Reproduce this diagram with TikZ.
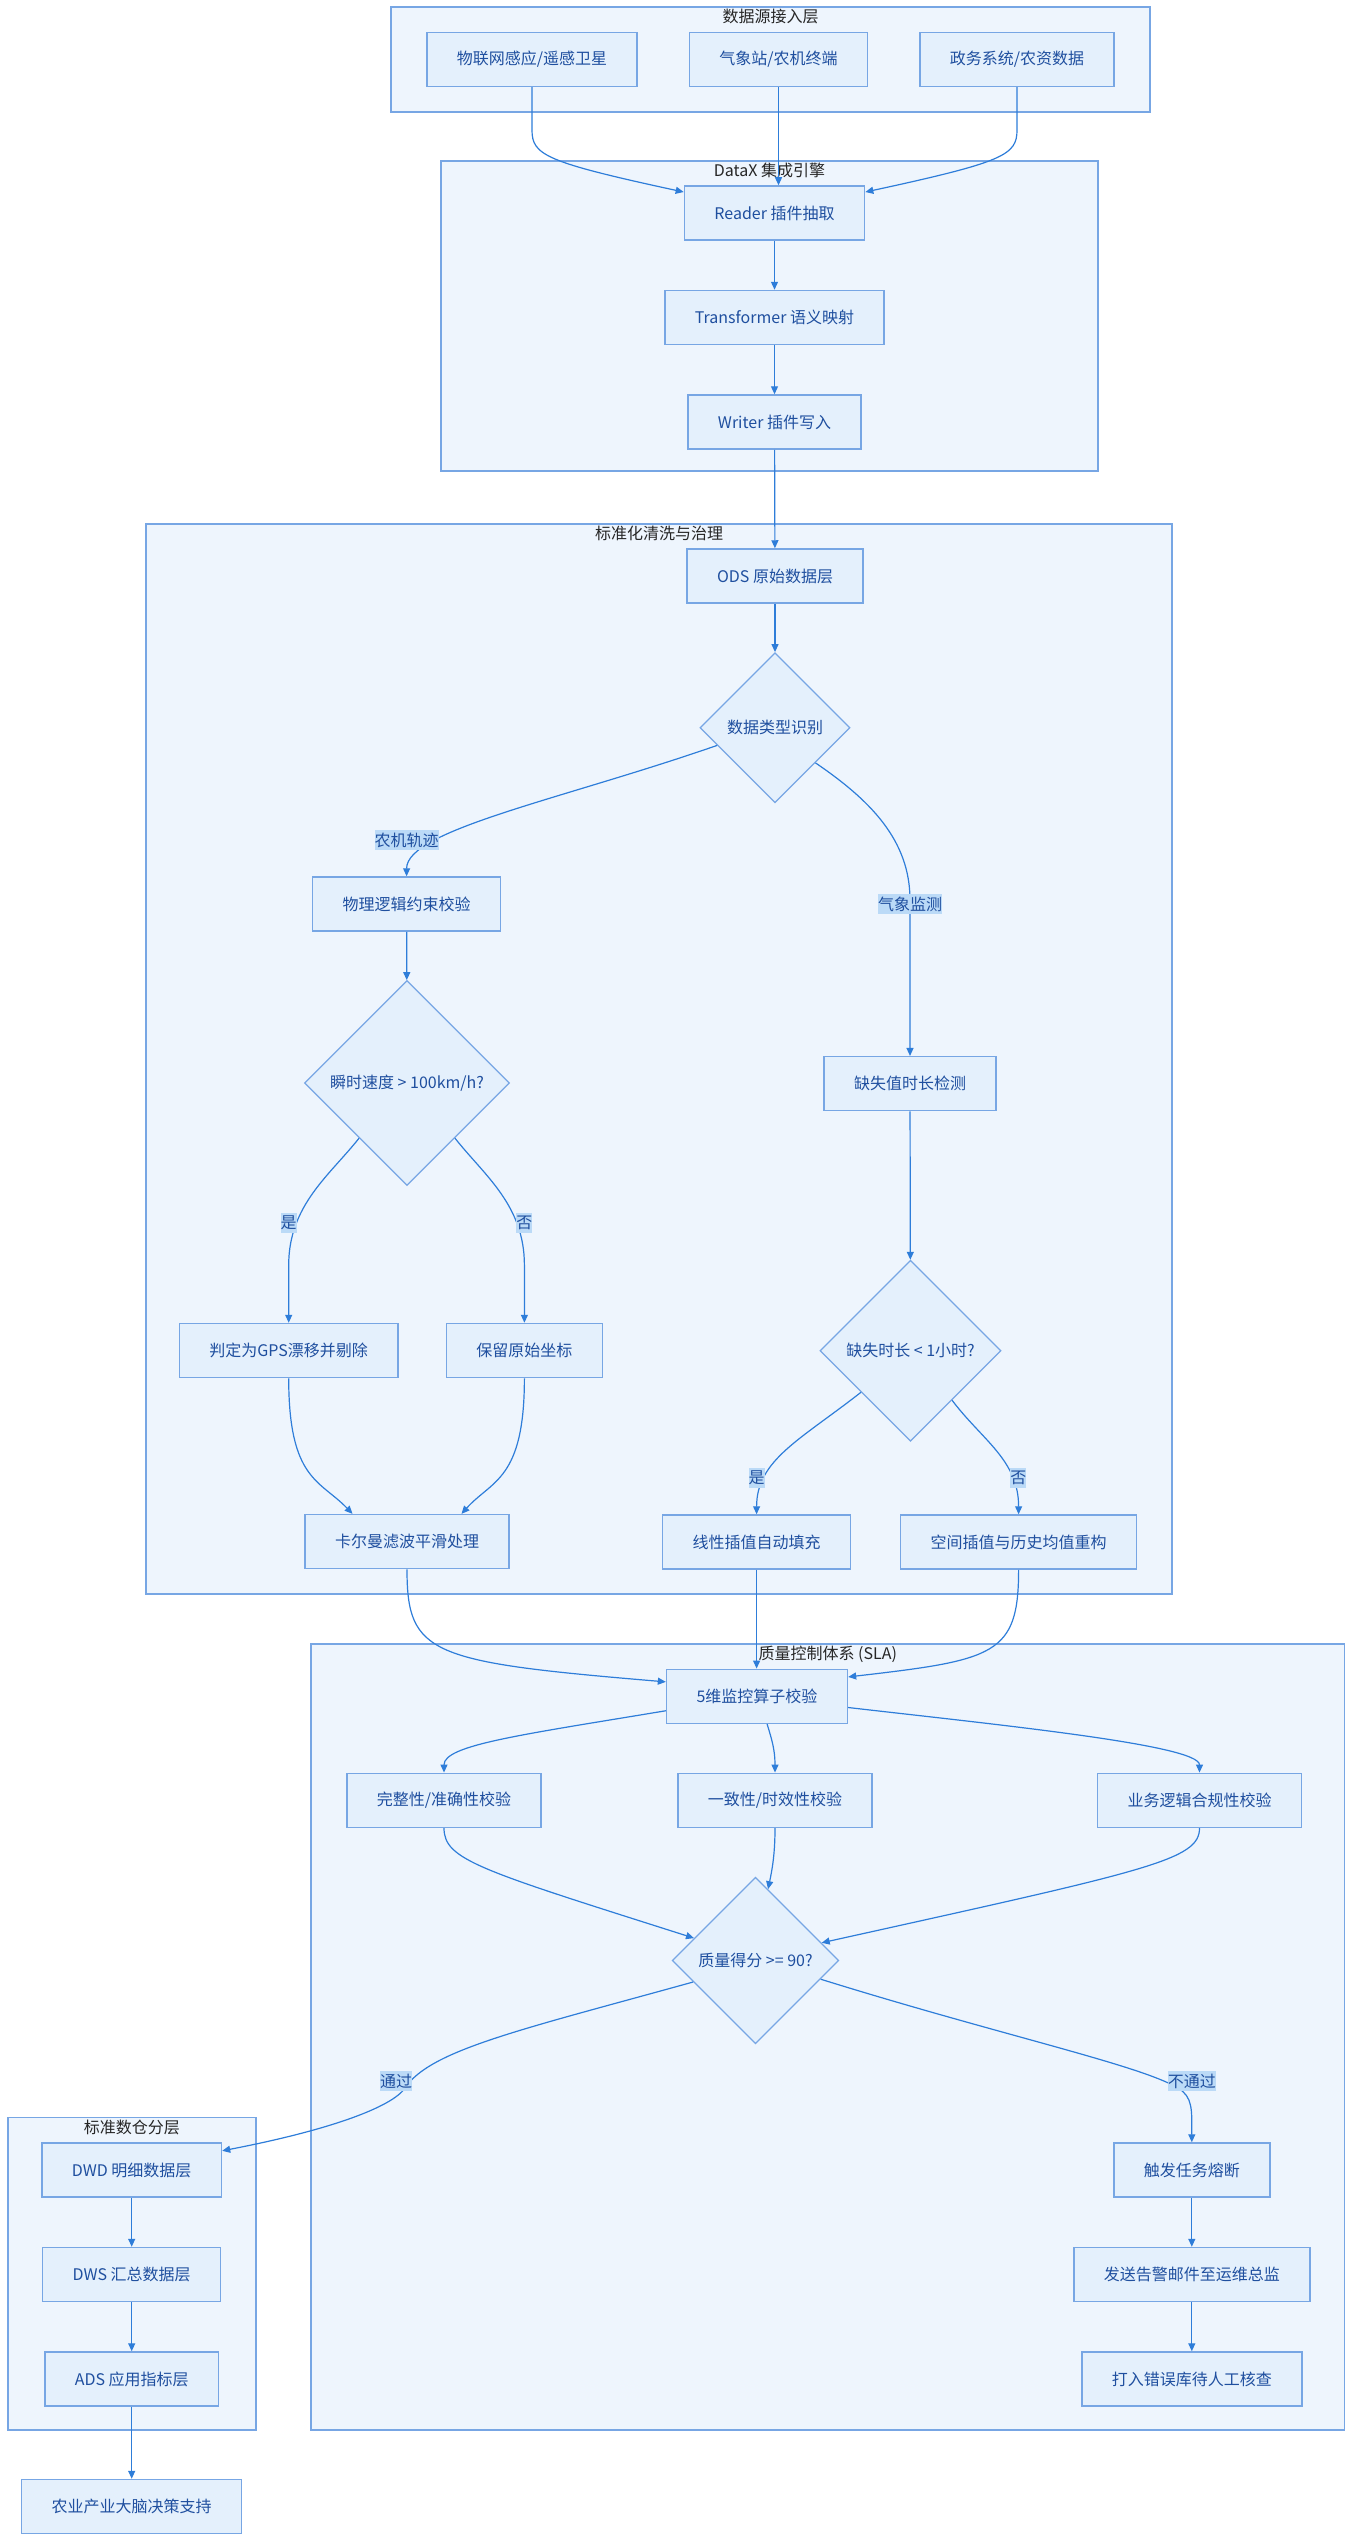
\documentclass[tikz,border=0pt]{standalone}
\usepackage{fontspec}
\newfontfamily\cjk{Noto Sans CJK SC}
\usetikzlibrary{arrows.meta,positioning,shapes.geometric,fit}
\definecolor{nodefill}{HTML}{E4F0FC}
\definecolor{nodeline}{HTML}{77A6E4}
\definecolor{nodetext}{HTML}{1F4F9F}
\definecolor{grpfill}{HTML}{EEF5FD}
\definecolor{grpline}{HTML}{77A6E4}
\definecolor{flowline}{HTML}{2E7DD9}
\definecolor{lblfill}{HTML}{BBDAF7}

\begin{document}
\begin{tikzpicture}[x=1pt, y=-1pt, >={Triangle[length=8pt,width=7pt]},
    every node/.style={font=\cjk\fontsize{16pt}{19pt}\selectfont},
    box/.style={draw=nodeline, fill=nodefill, line width=1.5pt, text=nodetext, minimum height=54pt, inner xsep=30pt},
    decision/.style={diamond, aspect=1, draw=nodeline, fill=nodefill, line width=1.2pt, text=nodetext, inner sep=0pt},
    lbl/.style={fill=lblfill, text=nodetext, inner xsep=0pt, inner ysep=3pt},
    grp/.style={draw=grpline, fill=grpfill, line width=1.5pt, inner sep=0pt},
    grptitle/.style={text=black!85, inner sep=1pt},
    flow/.style={->, draw=flowline, line width=1.2pt}]
    \useasboundingbox (0,0) rectangle (1353,2542);
    \fill[white] (0,0) rectangle (1353,2542);

    % Groups
    \node[grp, fit={(391,7) (1150,112)}] (grpsrc) {};
    \node[grptitle, below=2pt of grpsrc.north] (ttlsrc) {数据源接入层};
    \node[grp, fit={(441,161) (1098,471)}] (grpdatax) {};
    \node[grptitle, below=2pt of grpdatax.north] (ttldatax) {DataX 集成引擎};
    \node[grp, fit={(146,524) (1172,1594)}] (grpclean) {};
    \node[grptitle, below=2pt of grpclean.north] (ttlclean) {标准化清洗与治理};
    \node[grp, fit={(311,1644) (1344.5,2430)}] (grpsla) {};
    \node[grptitle, below=2pt of grpsla.north] (ttlsla) {质量控制体系 (SLA)};
    \node[grp, fit={(8,2117.6) (255.8,2430)}] (grpdw) {};
    \node[grptitle, below=2pt of grpdw.north] (ttldw) {标准数仓分层};

    % Nodes
    \node[box] (srcA) at (532,59.5) {物联网感应/遥感卫星};
    \node[box] (srcB) at (778.5,59.5) {气象站/农机终端};
    \node[box] (srcC) at (1017,59.5) {政务系统/农资数据};

    \node[box] (reader) at (774.5,213) {Reader 插件抽取};
    \node[box, below=49pt of reader] (transf) {Transformer 语义映射};
    \node[box, below=49pt of transf] (writer) {Writer 插件写入};

    \node[box] (ods) at (775,576) {ODS 原始数据层};
    \node[decision, minimum size=150pt] (dtype) at (775,727.7) {数据类型识别};
    \node[box] (phys) at (406.6,904) {物理逻辑约束校验};
    \node[decision, minimum size=205pt] (speed) at (407,1083) {瞬时速度 > 100km/h?};
    \node[box] (gps) at (288.7,1350.5) {判定为GPS漂移并剔除};
    \node[box] (keep) at (524.4,1350.5) {保留原始坐标};
    \node[box] (kalman) at (407,1541.6) {卡尔曼滤波平滑处理};
    \node[box] (missdet) at (910,1083.7) {缺失值时长检测};
    \node[decision, minimum size=181pt] (gap) at (910.5,1350.7) {缺失时长 < 1小时?};
    \node[box] (linfill) at (756.6,1542) {线性插值自动填充};
    \node[box] (spatial) at (1018.6,1542) {空间插值与历史均值重构};

    \node[box] (fivedim) at (757,1696.3) {5维监控算子校验};
    \node[box] (compl) at (444,1800.3) {完整性/准确性校验};
    \node[box] (consist) at (775,1800.3) {一致性/时效性校验};
    \node[box] (bizrule) at (1199.5,1800.3) {业务逻辑合规性校验};
    \node[decision, minimum size=166.6pt] (score) at (755.5,1960.5) {质量得分 >= 90?};
    \node[box] (fuse) at (1191.8,2170) {触发任务熔断};
    \node[box, below=49pt of fuse] (alert) {发送告警邮件至运维总监};
    \node[box, below=49pt of alert] (errlib) {打入错误库待人工核查};

    \node[box] (dwd) at (131.7,2170) {DWD 明细数据层};
    \node[box, below=49pt of dwd] (dws) {DWS 汇总数据层};
    \node[box, below=49pt of dws] (ads) {ADS 应用指标层};
    \node[box] (brain) at (131.7,2506.5) {农业产业大脑决策支持};

    % Arrows
    \draw[flow] (srcA.south) -- (532,130) .. controls (532,155) and (545,162) .. (reader.167);
    \draw[flow] (srcB.south) -- (srcB.south |- reader.north);
    \draw[flow] (srcC.south) -- (1017,130) .. controls (1017,155) and (1004,162) .. (reader.13);
    \draw[flow] (reader) -- (transf);
    \draw[flow] (transf) -- (writer);
    \draw[flow] (writer) -- (ods);
    \draw[flow] (ods) -- (dtype);
    \draw[flow] (dtype.197) .. controls (560,800) and (406.6,830) .. (phys.north);
    \draw[flow] (dtype.319) .. controls (870,800) and (910,840) .. (910,900) -- (missdet.north);
    \draw[flow] (phys) -- (speed);
    \draw[flow] (speed.229) .. controls (330,1175) and (288.7,1205) .. (288.7,1265) -- (gps.north);
    \draw[flow] (speed.311) .. controls (484,1175) and (524.4,1205) .. (524.4,1265) -- (keep.north);
    \draw[flow] (gps.south) .. controls (288.7,1480) and (320,1480) .. (kalman.153);
    \draw[flow] (keep.south) .. controls (524.4,1480) and (492,1480) .. (kalman.27);
    \draw[flow] (missdet) -- (gap);
    \draw[flow] (gap.220) .. controls (800,1440) and (756.6,1460) .. (linfill.north);
    \draw[flow] (gap.310) .. controls (982,1440) and (1018.6,1460) .. (spatial.north);
    \draw[flow] (kalman.south) .. controls (407,1655) and (430,1662) .. (fivedim.171);
    \draw[flow] (linfill.south) -- (linfill.south |- fivedim.north);
    \draw[flow] (spatial.south) .. controls (1018.6,1655) and (995,1660) .. (fivedim.12);
    \draw[flow] (fivedim.189) .. controls (520,1735) and (444,1745) .. (compl.north);
    \draw[flow] (fivedim.290) .. controls (772,1740) and (775,1750) .. (consist.north);
    \draw[flow] (fivedim.353) .. controls (1000,1725) and (1199.5,1745) .. (bizrule.north);
    \draw[flow] (compl.south) .. controls (444,1860) and (480,1870) .. (score.160);
    \draw[flow] (consist.south) .. controls (775,1855) and (772,1870) .. (score.80);
    \draw[flow] (bizrule.south) .. controls (1199.5,1860) and (1150,1870) .. (score.15);
    \draw[flow] (score.199) .. controls (520,2030) and (430,2050) .. (405,2088)
        .. controls (392,2107) and (330,2130) .. (dwd.12);
    \draw[flow] (score.344) .. controls (1000,2035) and (1140,2065) .. (1178,2088)
        .. controls (1193,2097) and (1191.8,2110) .. (fuse.north);
    \draw[flow] (fuse) -- (alert);
    \draw[flow] (alert) -- (errlib);
    \draw[flow] (dwd) -- (dws);
    \draw[flow] (dws) -- (ads);
    \draw[flow] (ads) -- (brain);

    % Edge labels
    \node[lbl] (lbltrack) at (406.6,840) {农机轨迹};
    \node[lbl] (lblweather) at (910,904) {气象监测};
    \node[lbl] (lblspeedyes) at (288.7,1223) {是};
    \node[lbl] (lblspeedno) at (524.4,1223) {否};
    \node[lbl] (lblgapyes) at (756.6,1477.7) {是};
    \node[lbl] (lblgapno) at (1018.3,1477.7) {否};
    \node[lbl] (lblpass) at (396,2081) {通过};
    \node[lbl] (lblfail) at (1191.8,2081) {不通过};
\end{tikzpicture}
\end{document}
